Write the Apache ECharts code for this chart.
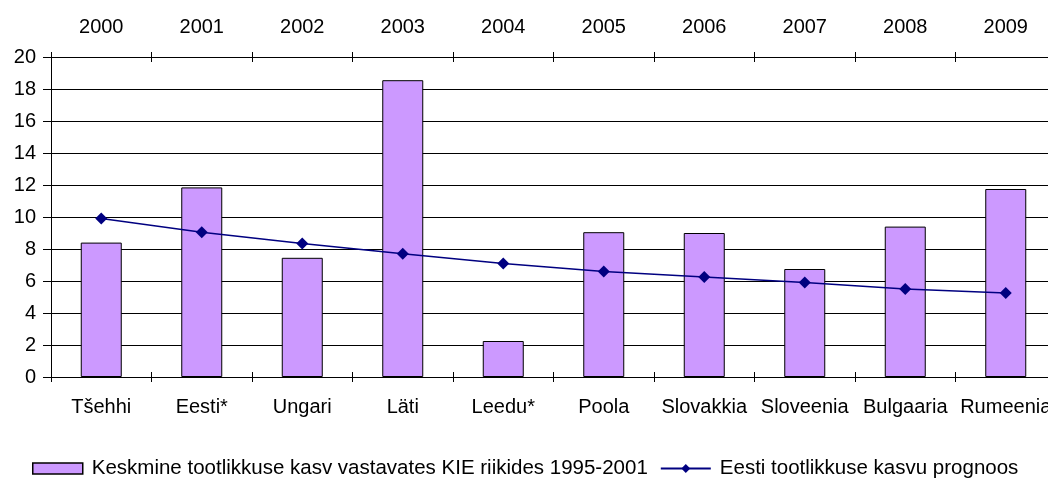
<!DOCTYPE html>
<html><head><meta charset="utf-8">
<script src="https://cdn.jsdelivr.net/npm/echarts@6/dist/echarts.min.js"></script>
<style>html,body{margin:0;padding:0;background:#fff}#c{width:1048px;height:480px}</style>
</head><body><div id="c"></div>
<script>
const countries = ['Tšehhi','Eesti*','Ungari','Läti','Leedu*','Poola','Slovakkia','Sloveenia','Bulgaaria','Rumeenia'];
const years = ['2000','2001','2002','2003','2004','2005','2006','2007','2008','2009'];
const barValues = [8.4, 11.85, 7.45, 18.55, 2.25, 9.05, 9.0, 6.75, 9.4, 11.75];
const lineValues = [9.9, 9.05, 8.35, 7.7, 7.1, 6.6, 6.25, 5.9, 5.5, 5.25];
const barName = 'Keskmine tootlikkuse kasv vastavates KIE riikides 1995-2001';
const lineName = 'Eesti tootlikkuse kasvu prognoos';

const FONT = 'Liberation Sans';
const FS = 20;
const chart = echarts.init(document.getElementById('c'), null, {renderer:'canvas'});
const axLine = {show:true, lineStyle:{color:'#000', width:1}};
function xa(pos, data, showLabel, inside){
  return {type:'category', position:pos, data:data, boundaryGap:true,
    axisLine:axLine,
    axisTick:{show:true, inside:inside, length:5, lineStyle:{color:'#000'}},
    axisLabel:{show:showLabel, color:'#000', fontFamily:FONT, fontSize:FS, margin:20, interval:0, hideOverlap:false},
    splitLine:{show:false}};
}
chart.setOption({
  animation:false,
  textStyle:{fontFamily:FONT},
  grid:{left:51, width:1005, top:57, bottom:103, containLabel:false, outerBoundsMode:'none'},
  legend:{top:458, left:32, width:1014, padding:0, itemGap:12, orient:'horizontal',
    textStyle:{color:'#000', fontFamily:FONT, fontSize:20.5, padding:[0,0,0,4]},
    data:[{name:barName, icon:'rect', itemStyle:{color:'#CC99FF', borderColor:'#000', borderWidth:1.5}},
          {name:lineName}],
    itemWidth:50, itemHeight:11},
  xAxis:[xa('bottom', countries, true, false), xa('bottom', countries, false, true),
         xa('top', years, true, false), xa('top', years, false, true)],
  yAxis:{type:'value', min:0, max:20, interval:2,
    axisLine:axLine,
    axisTick:{show:true, length:8, lineStyle:{color:'#000'}},
    axisLabel:{color:'#000', fontFamily:FONT, fontSize:FS, margin:15},
    splitLine:{show:true, lineStyle:{color:'#000', width:1}}},
  series:[
    {name:barName, type:'bar', xAxisIndex:0, data:barValues, barWidth:41,
      itemStyle:{color:'#CC99FF', borderColor:'#000', borderWidth:1}},
    {name:lineName, type:'line', xAxisIndex:2, data:lineValues, symbol:'diamond', symbolSize:12,
      lineStyle:{color:'#000080', width:1.5}, itemStyle:{color:'#000080'}}
  ]
});
</script></body></html>
